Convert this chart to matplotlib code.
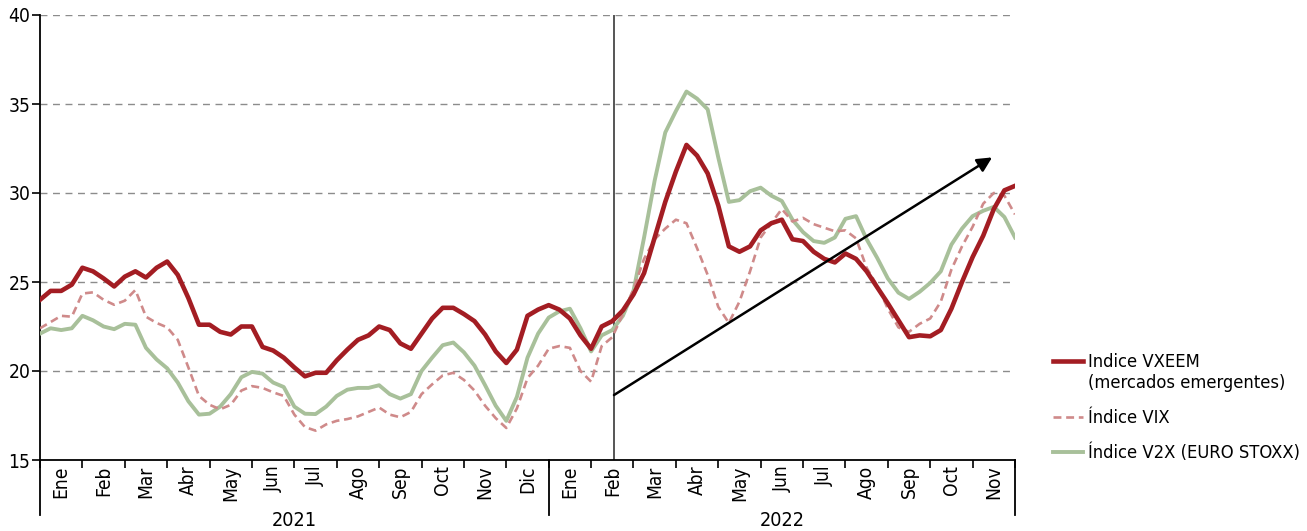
import numpy as np
import matplotlib
matplotlib.use('Agg')
from matplotlib import pyplot as plt
from matplotlib import font_manager
from matplotlib.lines import Line2D
import matplotlib.transforms as mtransforms

###pick a narrow face if one is installed
fonts = font_manager.fontManager.ttflist
names = set(f.name for f in fonts)
if 'Liberation Sans Narrow' in names:
    plt.rcParams['font.family'] = ['Liberation Sans Narrow', 'DejaVu Sans']
    scale = 1.0
elif any(f.name == 'DejaVu Sans' and f.stretch == 'condensed' for f in fonts):
    plt.rcParams['font.family'] = ['DejaVu Sans']
    plt.rcParams['font.stretch'] = 'condensed'
    scale = 0.92
else:
    plt.rcParams['font.family'] = ['Roboto', 'DejaVu Sans']
    scale = 0.85

###month labels Jan 2021 - Nov 2022, 4 readings per month
months = ['Ene', 'Feb', 'Mar', 'Abr', 'May', 'Jun', 'Jul', 'Ago', 'Sep', 'Oct', 'Nov', 'Dic',
          'Ene', 'Feb', 'Mar', 'Abr', 'May', 'Jun', 'Jul', 'Ago', 'Sep', 'Oct', 'Nov']
years = ['2021', '2022']
year_months = [12, 11]
per_month = 4

vxeem = [24.0, 24.5, 24.5, 24.85, 25.8, 25.6, 25.2, 24.75, 25.3, 25.6, 25.25, 25.8,
         26.15, 25.4, 24.1, 22.6, 22.6, 22.2, 22.05, 22.5, 22.5, 21.35, 21.15, 20.75,
         20.2, 19.7, 19.9, 19.9, 20.6, 21.2, 21.75, 22.0, 22.5, 22.3, 21.55, 21.25,
         22.1, 22.95, 23.55, 23.55, 23.2, 22.8, 22.05, 21.1, 20.45, 21.2, 23.1, 23.45,
         23.7, 23.45, 22.95, 22.0, 21.25, 22.5, 22.8, 23.4, 24.3, 25.5, 27.5, 29.5,
         31.2, 32.7, 32.1, 31.1, 29.3, 27.0, 26.7, 27.0, 27.9, 28.3, 28.5, 27.4,
         27.3, 26.7, 26.3, 26.1, 26.6, 26.3, 25.6, 24.7, 23.8, 22.85, 21.9, 22.0,
         21.95, 22.3, 23.5, 25.0, 26.4, 27.6, 29.1, 30.15, 30.4]

vix = [22.4, 22.75, 23.1, 23.05, 24.35, 24.42, 24.0, 23.72, 23.95, 24.55, 23.05, 22.7,
       22.45, 21.75, 20.2, 18.6, 18.1, 17.85, 18.1, 18.9, 19.15, 19.05, 18.8, 18.6,
       17.55, 16.85, 16.65, 17.0, 17.2, 17.3, 17.45, 17.7, 17.95, 17.55, 17.4, 17.7,
       18.7, 19.25, 19.75, 19.9, 19.5, 18.9, 18.05, 17.35, 16.8, 17.9, 19.6, 20.3,
       21.25, 21.4, 21.3, 20.0, 19.4, 21.4, 21.9, 23.2, 24.6, 26.3, 27.4, 28.0,
       28.5, 28.3, 26.9, 25.4, 23.6, 22.7, 23.9, 25.6, 27.5, 28.3, 29.1, 28.4,
       28.6, 28.25, 28.05, 27.85, 27.9, 27.45, 25.8, 24.8, 23.5, 22.45, 22.2, 22.65,
       22.95, 23.9, 25.7, 27.0, 28.1, 29.4, 30.0, 29.85, 28.8]

v2x = [22.1, 22.4, 22.3, 22.4, 23.1, 22.85, 22.5, 22.35, 22.65, 22.6, 21.3, 20.65,
       20.15, 19.35, 18.3, 17.55, 17.6, 18.0, 18.7, 19.65, 19.95, 19.85, 19.35, 19.1,
       18.0, 17.6, 17.58, 18.0, 18.6, 18.95, 19.05, 19.05, 19.2, 18.7, 18.45, 18.7,
       20.0, 20.75, 21.45, 21.6, 21.05, 20.3, 19.2, 18.05, 17.2, 18.55, 20.75, 22.1,
       23.0, 23.35, 23.5, 22.4, 21.1, 22.0, 22.3, 23.1, 24.5, 27.5, 30.7, 33.4,
       34.6, 35.7, 35.3, 34.7, 32.0, 29.5, 29.6, 30.1, 30.3, 29.85, 29.55, 28.5,
       27.8, 27.3, 27.2, 27.5, 28.55, 28.7, 27.4, 26.35, 25.2, 24.4, 24.05, 24.45,
       24.95, 25.6, 27.1, 28.0, 28.7, 29.0, 29.22, 28.65, 27.5]

labels = ['Indice VXEEM\n(mercados emergentes)', 'Índice VIX', 'Índice V2X (EURO STOXX)']

###event line (Feb 2022) and trend arrow, in months since Jan 2021
event_month = 13.54
arrow_start = (13.54, 18.65)
arrow_end = (22.46, 32.0)

red = '#A31D23'
pink = '#CF8A8A'
green = '#A8C09A'

t = np.arange(len(vxeem)) / per_month
n_months = len(months)

fig = plt.figure(figsize=(13.07, 5.31), dpi=100)
ax = fig.add_axes([40/1307, 1-460/531, 975/1307, 445/531])

ax.plot(t, v2x, color=green, lw=2.8, solid_joinstyle='round', zorder=3)
ax.plot(t, vix, color=pink, lw=1.9, linestyle=(0, (3, 1.8)), zorder=4)
ax.plot(t, vxeem, color=red, lw=3.3, solid_joinstyle='round', zorder=5)

ax.axvline(event_month, color='#555555', lw=1.4, zorder=2)
ax.annotate('', xy=arrow_end, xytext=arrow_start,
            arrowprops=dict(arrowstyle='-|>', color='black', lw=1.8,
                            mutation_scale=22, shrinkA=0, shrinkB=0), zorder=6)

ax.set_xlim(0, n_months)
ax.set_ylim(15, 40)
ax.set_yticks(np.arange(15, 41, 5))
for y in range(20, 41, 5):
    ax.axhline(y, color='#8c8c8c', lw=1.0, linestyle=(0, (5, 4)), zorder=1)

ax.spines['top'].set_visible(False)
ax.spines['right'].set_visible(False)
ax.spines['left'].set_linewidth(1.3)
ax.spines['bottom'].set_linewidth(1.3)
ax.tick_params(axis='y', direction='out', length=6, width=1.2, labelsize=15*scale, pad=1)

ax.set_xticks(np.arange(0, n_months + 1))
ax.set_xticklabels([])
ax.set_xticks(np.arange(n_months) + 0.5, minor=True)
ax.set_xticklabels(months, minor=True, rotation=90, fontsize=15*scale)
ax.tick_params(axis='x', which='major', direction='out', length=6, width=1.2)
ax.tick_params(axis='x', which='minor', length=0, pad=4)

###year separators and year labels under the axis
trans = mtransforms.blended_transform_factory(ax.transData, ax.transAxes)
edges = np.concatenate([[0], np.cumsum(year_months)])
for e in edges:
    ax.plot([e, e], [0, -0.124], color='black', lw=1.3, transform=trans, clip_on=False)
for i, yr in enumerate(years):
    ax.text((edges[i] + edges[i+1]) / 2, -0.136, yr, transform=trans,
            ha='center', va='center', fontsize=15.5*scale)

###legend drawn by hand on the right
handle_x = [1053/1307, 1083/1307]
text_x = 1088/1307
entries = [(red, '-', 3.3, 361), (pink, (0, (3, 1.8)), 1.9, 417), (green, '-', 2.8, 452)]
for (c, ls, lw, ypix), lab in zip(entries, labels):
    yf = 1 - ypix/531
    fig.add_artist(Line2D(handle_x, [yf, yf], color=c, lw=lw, linestyle=ls))
    fig.text(text_x, 1 - (ypix - 8)/531, lab, ha='left', va='top',
             fontsize=14.3*scale, linespacing=1.2)

plt.savefig('out.png', dpi=100)
plt.close()
